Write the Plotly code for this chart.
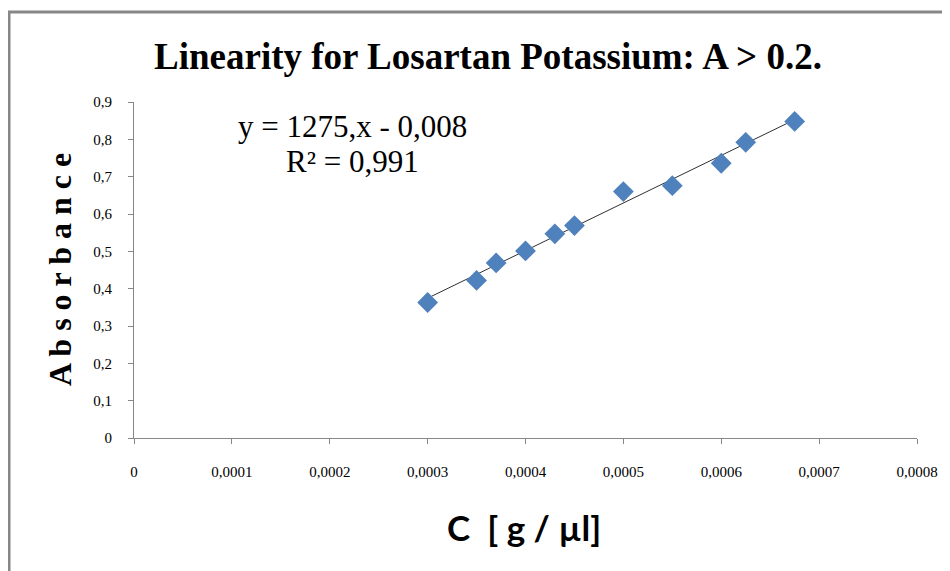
import plotly.graph_objects as go

# Data
conc = [0.0003, 0.00035, 0.00037, 0.0004, 0.00043, 0.00045, 0.0005, 0.00055, 0.0006, 0.000625, 0.000675]
absorb = [0.363, 0.422, 0.469, 0.501, 0.547, 0.569, 0.660, 0.676, 0.736, 0.792, 0.848]

slope = 1275
intercept = -0.008

x_tickvals = [0, 0.0001, 0.0002, 0.0003, 0.0004, 0.0005, 0.0006, 0.0007, 0.0008]
x_ticktext = ["0", "0,0001", "0,0002", "0,0003", "0,0004", "0,0005", "0,0006", "0,0007", "0,0008"]
y_tickvals = [0, 0.1, 0.2, 0.3, 0.4, 0.5, 0.6, 0.7, 0.8, 0.9]
y_ticktext = ["0", "0,1", "0,2", "0,3", "0,4", "0,5", "0,6", "0,7", "0,8", "0,9"]

W, H = 950, 571
OFF = 8  # page body margin
# desired plot area in page pixels: x 134..917, y 102..438
L = 134 - OFF
T = 102 - OFF
R = (W + OFF) - 917
B = (H + OFF) - 438
pw = W - L - R
ph = H - T - B

def px2u(px):
    return (px - OFF - L) / pw

def py2v(py):
    return (H - B - (py - OFF)) / ph

trend_x = [min(conc), max(conc)]
trend_y = [slope * v + intercept for v in trend_x]

fig = go.Figure()
fig.add_trace(go.Scatter(x=trend_x, y=trend_y, mode="lines",
                         line=dict(color="#303030", width=1), showlegend=False, hoverinfo="skip"))
fig.add_trace(go.Scatter(x=conc, y=absorb, mode="markers",
                         marker=dict(symbol="diamond", size=16, color="#4F81BD",
                                     line=dict(width=0)),
                         showlegend=False))

axis_common = dict(showgrid=False, zeroline=False, showline=True, linecolor="#878787", linewidth=1,
                   ticks="outside", ticklen=5, tickcolor="#878787", tickwidth=1,
                   tickfont=dict(family="Liberation Serif", size=15, color="black"))

fig.update_xaxes(range=[0, 0.0008], tickvals=x_tickvals, ticktext=x_ticktext,
                 ticklabelstandoff=15, **axis_common)
fig.update_yaxes(range=[0, 0.9], tickvals=y_tickvals, ticktext=y_ticktext,
                 ticklabelstandoff=13, **axis_common)

annotations = [
    dict(text="<b>Linearity for Losartan Potassium: A &gt; 0.2.</b>", x=px2u(488), y=py2v(56),
         xref="paper", yref="paper", showarrow=False, xanchor="center", yanchor="middle",
         font=dict(family="Liberation Serif", size=37, color="black")),
    dict(text="y = 1275,x - 0,008", x=px2u(352), y=py2v(127), xref="paper", yref="paper",
         showarrow=False, xanchor="center", yanchor="middle",
         font=dict(family="Liberation Serif", size=31, color="black")),
    dict(text="R² = 0,991", x=px2u(352), y=py2v(161), xref="paper", yref="paper",
         showarrow=False, xanchor="center", yanchor="middle",
         font=dict(family="Liberation Serif", size=31, color="black")),
    dict(text="<b>A b s o r b a n c e</b>", x=px2u(60), y=py2v(270), xref="paper", yref="paper",
         showarrow=False, xanchor="center", yanchor="middle", textangle=-90,
         font=dict(family="Liberation Serif", size=32, color="black")),
    dict(text="<b>C  [ g / µl]</b>", x=px2u(524), y=py2v(527), xref="paper", yref="paper",
         showarrow=False, xanchor="center", yanchor="middle",
         font=dict(family="Lato", size=35, color="black")),
]

shapes = [
    dict(type="line", xref="paper", yref="paper", x0=px2u(9), x1=px2u(9), y0=py2v(11), y1=py2v(620),
         line=dict(color="#878787", width=3)),
    dict(type="line", xref="paper", yref="paper", x0=px2u(8), x1=px2u(1000), y0=py2v(12), y1=py2v(12),
         line=dict(color="#878787", width=3)),
]

fig.update_layout(width=W, height=H, margin=dict(l=L, r=R, t=T, b=B),
                  plot_bgcolor="white", paper_bgcolor="white",
                  annotations=annotations, shapes=shapes, showlegend=False)

fig.write_html("out.html")
